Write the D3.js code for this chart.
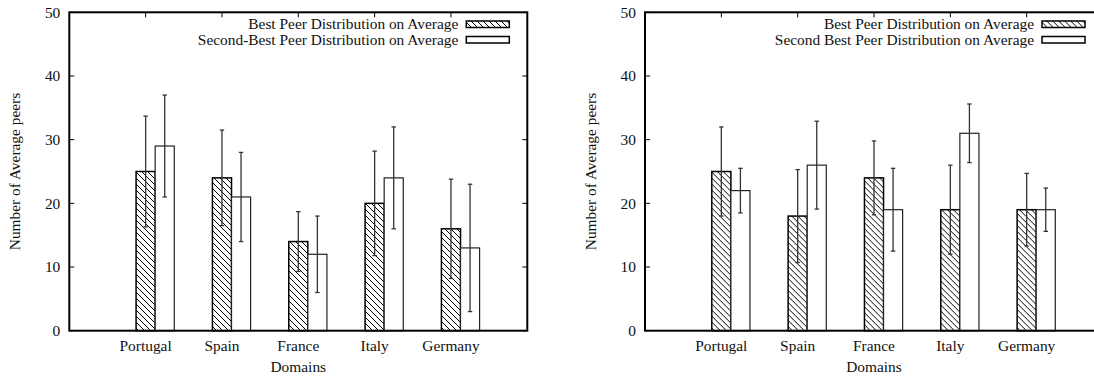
<!DOCTYPE html>
<html>
<head>
<meta charset="utf-8">
<script src="https://cdn.jsdelivr.net/npm/d3@7"></script>
<style>
  body { margin: 0; background: #fff; }
  svg { display: block; }
</style>
</head>
<body>
<svg id="chart" width="1094" height="379"></svg>
<script>
const domains = ["Portugal", "Spain", "France", "Italy", "Germany"];
const yTicks = [0, 10, 20, 30, 40, 50];

// left panel
const leftBest = [25, 24, 14, 20, 16];
const leftBestErr = [8.7, 7.5, 4.7, 8.2, 7.8];
const leftSecond = [29, 21, 12, 24, 13];
const leftSecondErr = [8, 7, 6, 8, 10];
const leftLegend = ["Best Peer Distribution on Average", "Second-Best Peer Distribution on Average"];

// right panel
const rightBest = [25, 18, 24, 19, 19];
const rightBestErr = [7, 7.3, 5.8, 7, 5.7];
const rightSecond = [22, 26, 19, 31, 19];
const rightSecondErr = [3.5, 6.9, 6.5, 4.6, 3.4];
const rightLegend = ["Best Peer Distribution on Average", "Second Best Peer Distribution on Average"];

const svg = d3.select("#chart");
const plotW = 458, plotTop = 12.3, plotBottom = 330.7;
const fontSize = 15.4;
const serif = "Liberation Serif";

// hatch for the "best" bars
const defs = svg.append("defs");
const pat = defs.append("pattern")
  .attr("id", "hatch")
  .attr("patternUnits", "userSpaceOnUse")
  .attr("width", 6).attr("height", 6);
pat.append("rect").attr("width", 6).attr("height", 6).attr("fill", "#fff");
pat.append("path")
  .attr("d", "M-1,-1 L7,7 M-4,2 L2,8 M4,-4 L10,2")
  .attr("stroke", "#000").attr("stroke-width", 1);

const drawPanel = (offsetX, best, bestErr, second, secondErr, legend) => {
  const g = svg.append("g").attr("transform", `translate(${offsetX},0)`);
  const left = 69.3;
  const x = d3.scaleLinear().domain([0, 6]).range([left, left + plotW]);
  const y = d3.scaleLinear().domain([0, 50]).range([plotBottom, plotTop]);
  const unit = x(1) - x(0);
  const bw = unit * 0.25;

  // y ticks, inward on both sides
  g.selectAll(".ytick-l").data(yTicks).join("line")
    .attr("x1", x(0)).attr("x2", x(0) + 5)
    .attr("y1", (d) => y(d)).attr("y2", (d) => y(d))
    .attr("stroke", "#000").attr("stroke-width", 1);
  g.selectAll(".ytick-r").data(yTicks).join("line")
    .attr("x1", x(6)).attr("x2", x(6) - 5)
    .attr("y1", (d) => y(d)).attr("y2", (d) => y(d))
    .attr("stroke", "#000").attr("stroke-width", 1);
  g.selectAll(".ylab").data(yTicks).join("text")
    .attr("x", x(0) - 9).attr("y", (d) => y(d))
    .attr("dy", "0.35em").attr("text-anchor", "end")
    .attr("font-family", serif)
    .attr("font-size", fontSize).attr("fill", "#111")
    .text((d) => d);

  // x ticks top and bottom
  g.selectAll(".xtick-t").data(domains).join("line")
    .attr("x1", (d, i) => x(i + 1)).attr("x2", (d, i) => x(i + 1))
    .attr("y1", plotTop).attr("y2", plotTop + 5)
    .attr("stroke", "#000").attr("stroke-width", 1);
  g.selectAll(".xtick-b").data(domains).join("line")
    .attr("x1", (d, i) => x(i + 1)).attr("x2", (d, i) => x(i + 1))
    .attr("y1", plotBottom).attr("y2", plotBottom - 5)
    .attr("stroke", "#000").attr("stroke-width", 1);
  g.selectAll(".xlab").data(domains).join("text")
    .attr("x", (d, i) => x(i + 1)).attr("y", 350.5)
    .attr("text-anchor", "middle")
    .attr("font-family", serif)
    .attr("font-size", fontSize).attr("fill", "#111")
    .text((d) => d);

  // bars
  g.selectAll(".bar-best").data(best).join("rect")
    .attr("x", (d, i) => x(i + 1) - bw / 2)
    .attr("y", (d) => y(d))
    .attr("width", bw).attr("height", (d) => y(0) - y(d))
    .attr("fill", "url(#hatch)").attr("stroke", "#000").attr("stroke-width", 1.5);
  g.selectAll(".bar-second").data(second).join("rect")
    .attr("x", (d, i) => x(i + 1) + bw / 2)
    .attr("y", (d) => y(d))
    .attr("width", bw).attr("height", (d) => y(0) - y(d))
    .attr("fill", "#fff").attr("stroke", "#222").attr("stroke-width", 1.2);

  // error bars
  const errs = [];
  best.forEach((v, i) => errs.push({ cx: x(i + 1), v, e: bestErr[i] }));
  second.forEach((v, i) => errs.push({ cx: x(i + 1) + bw, v, e: secondErr[i] }));
  const eg = g.selectAll(".err").data(errs).join("g")
    .attr("stroke", "#333").attr("stroke-width", 1.3);
  eg.append("line")
    .attr("x1", (d) => d.cx).attr("x2", (d) => d.cx)
    .attr("y1", (d) => y(d.v - d.e)).attr("y2", (d) => y(d.v + d.e));
  eg.append("line")
    .attr("x1", (d) => d.cx - 2.2).attr("x2", (d) => d.cx + 2.2)
    .attr("y1", (d) => y(d.v + d.e)).attr("y2", (d) => y(d.v + d.e));
  eg.append("line")
    .attr("x1", (d) => d.cx - 2.2).attr("x2", (d) => d.cx + 2.2)
    .attr("y1", (d) => y(d.v - d.e)).attr("y2", (d) => y(d.v - d.e));

  // frame
  g.append("rect")
    .attr("x", x(0)).attr("y", plotTop)
    .attr("width", x(6) - x(0)).attr("height", plotBottom - plotTop)
    .attr("fill", "none").attr("stroke", "#000").attr("stroke-width", 2);

  // legend
  const keyX = left + 397, keyW = 43;
  const lg = g.selectAll(".legend").data(legend).join("g")
    .attr("transform", (d, i) => `translate(0,${24 + i * 15.5})`);
  lg.append("text")
    .attr("x", left + 389).attr("dy", "0.35em")
    .attr("text-anchor", "end")
    .attr("font-family", serif)
    .attr("font-size", fontSize).attr("fill", "#111")
    .text((d) => d);
  lg.append("rect")
    .attr("x", keyX).attr("y", -3).attr("width", keyW).attr("height", 6.5)
    .attr("fill", (d, i) => (i === 0 ? "url(#hatch)" : "#fff"))
    .attr("stroke", "#000").attr("stroke-width", 1.5);

  // axis titles
  g.append("text")
    .attr("x", (x(0) + x(6)) / 2).attr("y", 372)
    .attr("text-anchor", "middle")
    .attr("font-family", serif)
    .attr("font-size", fontSize).attr("fill", "#111")
    .text("Domains");
  g.append("text")
    .attr("transform", `translate(20,${(plotTop + plotBottom) / 2}) rotate(-90)`)
    .attr("text-anchor", "middle")
    .attr("font-family", serif)
    .attr("font-size", fontSize).attr("fill", "#111")
    .text("Number of Average peers");
};

drawPanel(0, leftBest, leftBestErr, leftSecond, leftSecondErr, leftLegend);
drawPanel(575.7, rightBest, rightBestErr, rightSecond, rightSecondErr, rightLegend);
</script>
</body>
</html>
